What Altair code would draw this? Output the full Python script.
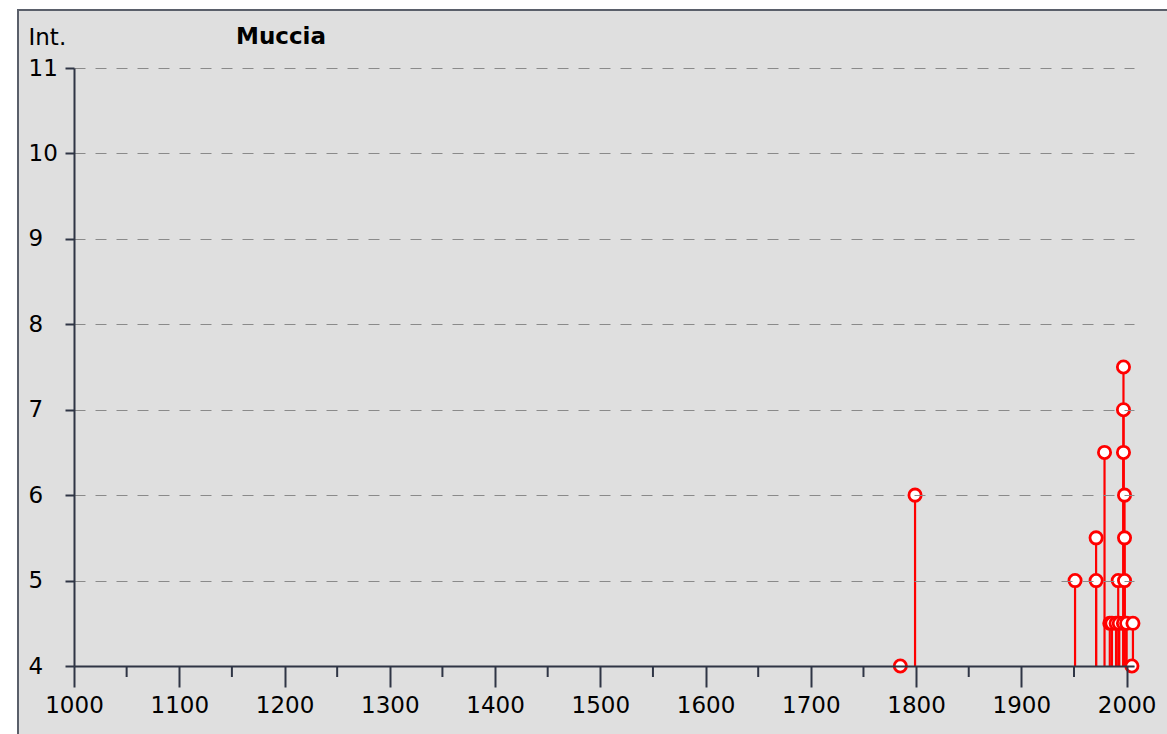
import altair as alt
import pandas as pd

# Earthquake history: year and intensity (Int.)
years = [1785, 1799, 1951, 1971, 1971, 1979, 1984, 1986, 1990, 1992, 1993,
         1997, 1997, 1997, 1998, 1998, 1998, 1997, 2000, 2005, 2006]
intensity = [4, 6, 5, 5, 5.5, 6.5, 4.5, 4.5, 4.5, 5, 4.5,
             7.5, 7, 6.5, 6, 5.5, 5, 4.5, 4.5, 4, 4.5]
minor_ticks = [1050, 1150, 1250, 1350, 1450, 1550, 1650, 1750, 1850, 1950]
x_ticks = [1000, 1100, 1200, 1300, 1400, 1500, 1600, 1700, 1800, 1900, 2000]
y_ticks = [4, 5, 6, 7, 8, 9, 10, 11]
title_text = "Muccia"
y_title = "Int."

df = pd.DataFrame({"year": years, "int": intensity, "base": [4] * len(years)})
minor_df = pd.DataFrame({"year": minor_ticks})

W, H = 1060, 598
FONT = "DejaVu Sans"
FS = 23
AXIS_COLOR = "#2f3545"

xscale = alt.Scale(domain=[1000, 2007], nice=False, zero=False)
yscale = alt.Scale(domain=[4, 11], nice=False, zero=False)

bg = alt.Chart(pd.DataFrame({"a": [0]})).mark_rect(
    fill="#dfdfdf", stroke="#5a5f6a", strokeWidth=2, clip=False
).encode(
    x=alt.value(-56), x2=alt.value(1100), y=alt.value(-58), y2=alt.value(680)
)

stems = alt.Chart(df).mark_rule(color="#ff0000", strokeWidth=2.2).encode(
    x=alt.X("year:Q", scale=xscale,
            axis=alt.Axis(values=x_ticks, format="d", tickSize=21, tickWidth=2,
                          tickColor=AXIS_COLOR, domainColor=AXIS_COLOR, domainWidth=2,
                          labelFont=FONT, labelFontSize=FS, labelColor="#000000",
                          labelPadding=7, grid=False, title=None, labelFlush=False,
                          zindex=1)),
    y=alt.Y("base:Q", scale=yscale,
            axis=alt.Axis(values=y_ticks, format="d", tickSize=9, tickWidth=2,
                          tickColor=AXIS_COLOR, domainColor=AXIS_COLOR, domainWidth=2,
                          labelFont=FONT, labelFontSize=FS, labelColor="#000000",
                          labelAlign="left", labelPadding=37, labelBaseline="middle",
                          grid=True, gridColor="#8a8a8a", gridDash=[11, 10], gridWidth=1,
                          title=y_title, titleAngle=0, titleAlign="left",
                          titleBaseline="alphabetic", titleX=-46, titleY=-24,
                          titleFont=FONT, titleFontSize=FS, titleFontWeight="normal",
                          titleColor="#000000", zindex=1)),
    y2="int:Q",
)

minor = alt.Chart(minor_df).mark_rule(color=AXIS_COLOR, strokeWidth=2).encode(
    x=alt.X("year:Q", scale=xscale),
    y=alt.value(H), y2=alt.value(H + 11),
)

points = alt.Chart(df).mark_point(
    shape="circle", filled=False, fill="#ffffff", fillOpacity=1,
    stroke="#ff0000", strokeWidth=2.8, size=150, opacity=1, clip=False
).encode(
    x=alt.X("year:Q", scale=xscale),
    y=alt.Y("int:Q", scale=yscale),
)

title = alt.Chart(pd.DataFrame({"t": [title_text]})).mark_text(
    font=FONT, fontSize=FS, fontWeight="bold", align="left", baseline="alphabetic",
    color="#000000"
).encode(text="t:N", x=alt.value(162), y=alt.value(-24))

chart = alt.layer(bg, stems, minor, points, title).properties(
    width=W, height=H,
    padding={"left": 74, "top": 68, "right": 33, "bottom": 68},
    autosize=alt.AutoSizeParams(type="none"),
    background="#ffffff",
).configure_view(stroke=None, fill=None)

chart.save("out.html", embed_options={"renderer": "svg", "actions": False})
